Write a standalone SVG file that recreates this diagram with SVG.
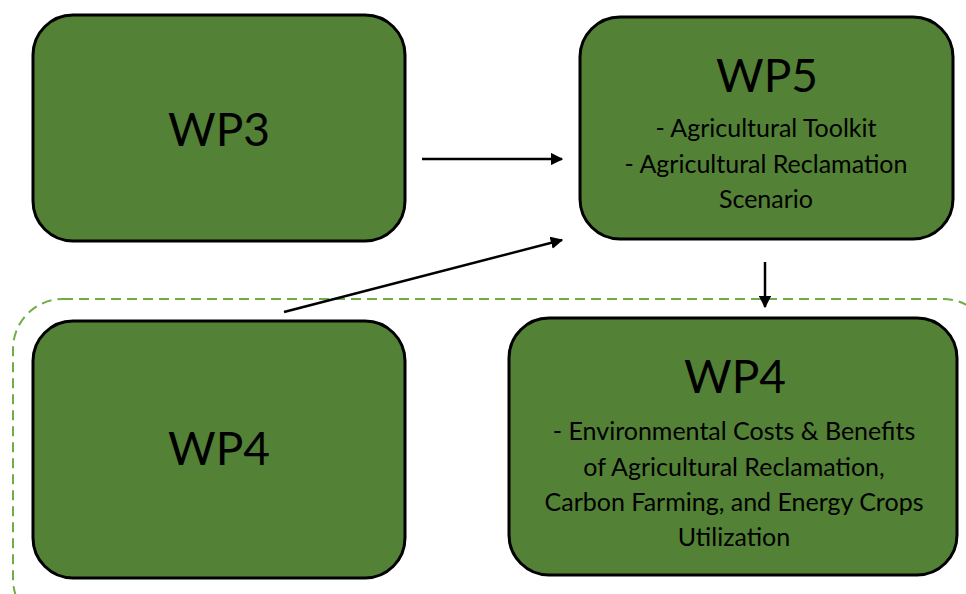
<svg xmlns="http://www.w3.org/2000/svg" width="966" height="594" viewBox="0 0 966 594">
<style>
.box{fill:#538135;stroke:#000;stroke-width:3}
.t{font-family:Lato,"Open Sans","Liberation Sans",sans-serif;fill:#000;text-anchor:middle}
.big{font-size:46px}
.sm{font-size:25px}
.conn{stroke:#000;stroke-width:2.5;fill:none;marker-end:url(#ah)}
</style>
<defs>
<marker id="ah" viewBox="0 0 10 10" refX="9" refY="5" markerWidth="5" markerHeight="5" markerUnits="strokeWidth" orient="auto">
<path d="M0,0 L10,5 L0,10 z" fill="#000"/>
</marker>
</defs>
<rect id="group" x="13" y="299" width="980" height="330" rx="50" fill="none" stroke="#70AD47" stroke-width="2" stroke-dasharray="10,6"/>
<g id="wp3"><rect class="box" x="33" y="15" width="372" height="226" rx="40"/><text class="t big" x="219" y="146">WP3</text></g>
<g id="wp5"><rect class="box" x="580" y="17" width="373" height="222" rx="40"/><text class="t big" x="767" y="92">WP5</text>
<text class="t sm" x="766" y="137">- Agricultural Toolkit</text>
<text class="t sm" x="766" y="173">- Agricultural Reclamation</text>
<text class="t sm" x="766" y="208">Scenario</text></g>
<g id="wp4a"><rect class="box" x="33" y="321" width="372" height="257" rx="40"/><text class="t big" x="219" y="465">WP4</text></g>
<g id="wp4b"><rect class="box" x="509" y="318" width="448" height="257" rx="40"/><text class="t big" x="735" y="393">WP4</text>
<text class="t sm" x="734" y="440">- Environmental Costs &amp; Benefits</text>
<text class="t sm" x="734" y="476">of Agricultural Reclamation,</text>
<text class="t sm" x="734" y="511">Carbon Farming, and Energy Crops</text>
<text class="t sm" x="734" y="546">Utilization</text></g>
<g id="connectors">
<line class="conn" x1="422" y1="159" x2="562" y2="159"/>
<line class="conn" x1="284" y1="312" x2="562" y2="240"/>
<line class="conn" x1="765" y1="262" x2="765" y2="307"/>
</g>
</svg>
